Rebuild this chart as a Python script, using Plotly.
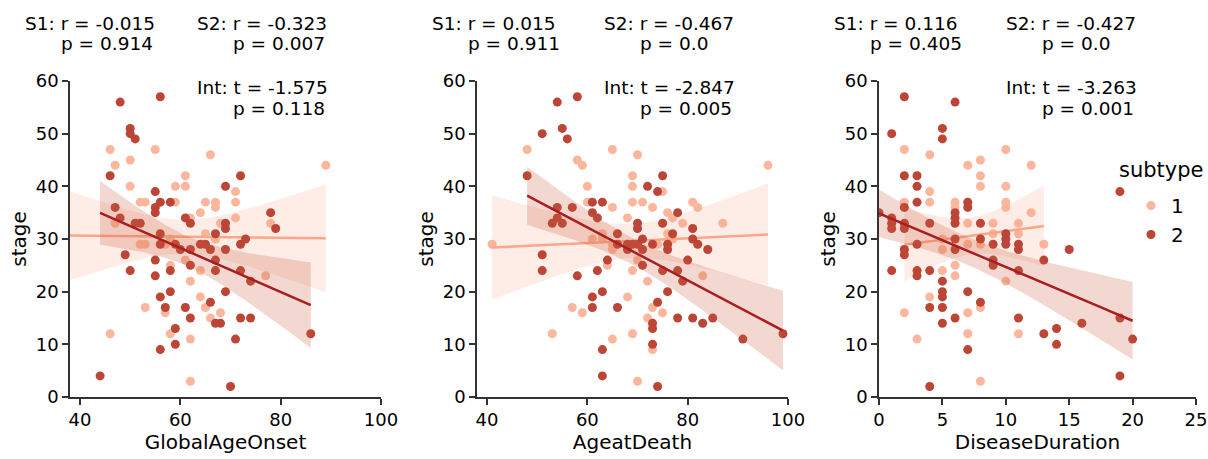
import numpy as np
import plotly.graph_objects as go

# ---------------- data ----------------
# Panel 1: GlobalAgeOnset vs stage
onset_s1_x = [37, 46, 47, 50, 50, 55, 52, 53, 47, 52, 53, 53, 46, 58, 57, 59, 59, 58, 61, 61, 62, 61,
              62, 58, 57, 62, 62, 66, 65, 64, 65, 64, 64, 65, 66, 68, 67, 67, 68, 67, 71, 71, 71, 77, 78, 89]
onset_s1_y = [29, 47, 44, 45, 40, 47, 37, 37, 33, 29, 29, 17, 12, 30, 29, 40, 37, 25, 42, 40, 34, 26,
              22, 12, 16, 11, 3, 46, 37, 35, 31, 24, 19, 17, 15, 16, 37, 36, 33, 30, 39, 37, 34, 23, 33, 44]
onset_s2_x = [48, 56, 50, 50, 51, 46, 47, 48, 51, 52, 49, 50, 44, 55, 56, 58, 55, 55, 56, 56, 59, 60,
              55, 55, 58, 58, 56, 57, 59, 59, 56, 61, 62, 62, 62, 61, 62, 64, 65, 67, 66, 67, 67, 66,
              67, 68, 69, 69, 69, 69, 69, 70, 72, 72, 73, 72, 74, 72, 74, 71, 78, 79, 86]
onset_s2_y = [56, 57, 51, 50, 49, 42, 36, 34, 33, 33, 27, 24, 4, 39, 37, 37, 36, 35, 31, 29, 29, 28,
              26, 23, 24, 20, 19, 17, 13, 10, 9, 34, 33, 28, 25, 17, 15, 29, 29, 31, 28, 26, 24, 18,
              14, 14, 40, 33, 32, 28, 20, 2, 42, 29, 30, 24, 22, 15, 15, 11, 35, 32, 12]

# Panel 2: AgeatDeath vs stage
death_s1_x = [41, 48, 53, 58, 59, 57, 59, 60, 60, 61, 63, 63, 64, 65, 65, 65, 65, 65, 68, 68, 69, 69,
              69, 69, 69, 70, 70, 70, 71, 72, 72, 73, 73, 73, 74, 75, 75, 76, 76, 77, 77, 79, 81, 82,
              83, 87, 96]
death_s1_y = [29, 47, 12, 45, 44, 17, 16, 40, 37, 30, 31, 30, 25, 47, 36, 28, 29, 11, 34, 19, 42, 40,
              37, 24, 12, 46, 26, 3, 37, 22, 15, 17, 9, 36, 29, 39, 16, 35, 31, 34, 30, 33, 37, 36,
              23, 33, 44]
death_s2_x = [54, 58, 51, 55, 56, 48, 54, 57, 53, 55, 54, 51, 51, 58, 61, 63, 61, 62, 64, 66, 66, 62,
              61, 61, 63, 66, 63, 63, 68, 69, 70, 68, 70, 70, 71, 71, 71, 72, 74, 75, 75, 73, 75, 76,
              76, 77, 78, 78, 79, 76, 74, 73, 73, 73, 74, 78, 80, 81, 81, 82, 84, 81, 83, 85, 91, 99]
death_s2_y = [56, 57, 50, 51, 49, 42, 36, 36, 33, 33, 34, 27, 24, 23, 37, 37, 35, 34, 26, 31, 29, 24,
              19, 17, 20, 17, 9, 4, 29, 29, 29, 28, 33, 32, 30, 28, 25, 40, 39, 42, 33, 29, 24, 29,
              28, 31, 35, 24, 22, 20, 18, 14, 13, 10, 2, 15, 26, 32, 30, 29, 28, 15, 14, 15, 11, 12]

# Panel 3: DiseaseDuration vs stage
dur_s1_x = [2, 2, 2, 2, 3, 4, 4, 4, 4, 5, 5, 5, 6, 6, 6, 6, 7, 7, 7, 7, 7, 8, 8, 8, 8, 8, 8,
            9, 9, 10, 10, 10, 10, 10, 11, 11, 11, 12, 12, 13]
dur_s1_y = [47, 37, 28, 16, 11, 46, 39, 37, 19, 30, 28, 24, 37, 36, 25, 23, 44, 33, 29, 16, 12, 45, 42,
            40, 29, 17, 3, 33, 31, 47, 40, 37, 36, 22, 33, 31, 12, 44, 35, 29]
dur_s2_x = [0, 1, 1, 1, 1, 1, 2, 2, 2, 2, 2, 2, 2, 3, 3, 3, 3, 3, 3, 4, 4, 4, 4, 5, 5, 5, 5, 5, 5,
            5, 6, 6, 6, 6, 6, 6, 6, 7, 7, 7, 7, 8, 8, 8, 9, 9, 9, 10, 10, 10, 11, 11, 11, 11, 13,
            13, 14, 14, 15, 16, 19, 19, 19, 20]
dur_s2_y = [35, 50, 34, 33, 32, 24, 57, 42, 36, 33, 32, 28, 27, 42, 40, 37, 29, 24, 23, 33, 24, 17, 2,
            51, 49, 22, 20, 19, 17, 14, 56, 35, 34, 33, 30, 28, 15, 37, 36, 20, 9, 33, 30, 18, 29,
            26, 25, 31, 30, 29, 29, 28, 24, 15, 26, 12, 13, 10, 28, 14, 39, 15, 4, 11]

panels = [
    ("GlobalAgeOnset", onset_s1_x, onset_s1_y, onset_s2_x, onset_s2_y, [38, 100], [40, 60, 80, 100]),
    ("AgeatDeath", death_s1_x, death_s1_y, death_s2_x, death_s2_y, [38, 100], [40, 60, 80, 100]),
    ("DiseaseDuration", dur_s1_x, dur_s1_y, dur_s2_x, dur_s2_y, [0, 25], [0, 5, 10, 15, 20, 25]),
]
stat_texts = [
    ("S1: r = -0.015", "p = 0.914", "S2: r = -0.323", "p = 0.007", "Int: t = -1.575", "p = 0.118"),
    ("S1: r = 0.015", "p = 0.911", "S2: r = -0.467", "p = 0.0", "Int: t = -2.847", "p = 0.005"),
    ("S1: r = 0.116", "p = 0.405", "S2: r = -0.427", "p = 0.0", "Int: t = -3.263", "p = 0.001"),
]
y_ticks = [0, 10, 20, 30, 40, 50, 60]

# ---------------- styling ----------------
PAGE_OFF = 0            # page body margin removed via post_script
W, H = 1208, 459
FONT = "DejaVu Sans"
PT_LIGHT = "#fbb79d"
PT_DARK = "#bc4536"
LN_LIGHT = "#fba686"
LN_DARK = "#a81e22"
BAND_LIGHT = "rgba(251,166,134,0.20)"
BAND_DARK = "rgba(200,90,60,0.24)"
AXC = "#333333"

# target positions in page pixels
x_px = [(70, 381), (477, 788), (879, 1196)]
y_px = (81, 397)


def px(xp):
    return (xp - PAGE_OFF) / W


def py(yp):
    return 1 - (yp - PAGE_OFF) / H


def fit(x, y, n=120):
    x = np.asarray(x, float)
    y = np.asarray(y, float)
    b, a = np.polyfit(x, y, 1)
    xs = np.linspace(x.min(), x.max(), n)
    yh = a + b * xs
    res = y - (a + b * x)
    s = np.sqrt(np.sum(res ** 2) / (len(x) - 2))
    sxx = np.sum((x - x.mean()) ** 2)
    se = s * np.sqrt(1.0 / len(x) + (xs - x.mean()) ** 2 / sxx)
    return xs, yh, yh - 1.98 * se, yh + 1.98 * se


fig = go.Figure()
layout = dict(
    width=W, height=H, margin=dict(l=0, r=0, t=0, b=0, autoexpand=False),
    paper_bgcolor="white", plot_bgcolor="white",
    font=dict(family=FONT, size=18, color="black"),
    showlegend=True,
)
annotations = []

for i, (xlabel, x1, y1, x2, y2, xr, xt) in enumerate(panels):
    k = "" if i == 0 else str(i + 1)
    xa, ya = "x" + k, "y" + k
    for (xs_, ys_, pc, lc, bc, name) in [
        (x1, y1, PT_LIGHT, LN_LIGHT, BAND_LIGHT, "1"),
        (x2, y2, PT_DARK, LN_DARK, BAND_DARK, "2"),
    ]:
        fig.add_trace(go.Scatter(
            x=xs_, y=ys_, mode="markers", xaxis=xa, yaxis=ya,
            marker=dict(color=pc, size=9, line=dict(width=0)),
            name=name, showlegend=(i == 0), legendgroup=name))
        gx, gy, lo, hi = fit(xs_, ys_)
        fig.add_trace(go.Scatter(
            x=np.concatenate([gx, gx[::-1]]), y=np.concatenate([lo, hi[::-1]]),
            fill="toself", fillcolor=bc, line=dict(width=0), mode="lines",
            xaxis=xa, yaxis=ya, showlegend=False, hoverinfo="skip"))
        fig.add_trace(go.Scatter(
            x=gx, y=gy, mode="lines", line=dict(color=lc, width=2.5),
            xaxis=xa, yaxis=ya, showlegend=False))

    x0, x1p = x_px[i]
    layout["xaxis" + k] = dict(
        domain=[px(x0), px(x1p)], anchor=ya, range=xr, tickvals=xt, automargin=False,
        showline=True, linecolor=AXC, linewidth=1.5, ticks="outside", ticklen=6,
        tickwidth=1.5, tickcolor=AXC, showgrid=False, zeroline=False,
        tickfont=dict(size=18), title=dict(text=xlabel, font=dict(size=20), standoff=6))
    layout["yaxis" + k] = dict(
        domain=[py(y_px[1]), py(y_px[0])], anchor=xa, range=[0, 60], tickvals=y_ticks,
        automargin=False,
        showline=True, linecolor=AXC, linewidth=1.5, ticks="outside", ticklen=6,
        tickwidth=1.5, tickcolor=AXC, showgrid=False, zeroline=False,
        tickfont=dict(size=18), title=dict(text="stage", font=dict(size=20), standoff=4))

    t = stat_texts[i]
    offs = [(-47, 23), (-11, 44), (125, 23), (161, 44), (125, 87), (161, 108)]
    for txt, (dx, yy) in zip(t, offs):
        annotations.append(dict(
            text=txt, x=px(x0 + dx), y=py(yy), xref="paper", yref="paper",
            xanchor="left", yanchor="middle", showarrow=False, font=dict(size=18.5)))

annotations.append(dict(text="subtype", x=px(1117), y=py(170), xref="paper", yref="paper",
                        xanchor="left", yanchor="middle", showarrow=False, font=dict(size=21)))
layout["annotations"] = annotations
layout["legend"] = dict(x=px(1131), y=py(186), xanchor="left", yanchor="top",
                        font=dict(size=20), bgcolor="rgba(0,0,0,0)", tracegroupgap=0,
                        itemsizing="trace")
fig.update_layout(**layout)
fig.write_html(
    "out.html",
    config={"displayModeBar": False},
    post_script="document.body.style.margin='0';document.body.style.overflow='hidden';",
)
